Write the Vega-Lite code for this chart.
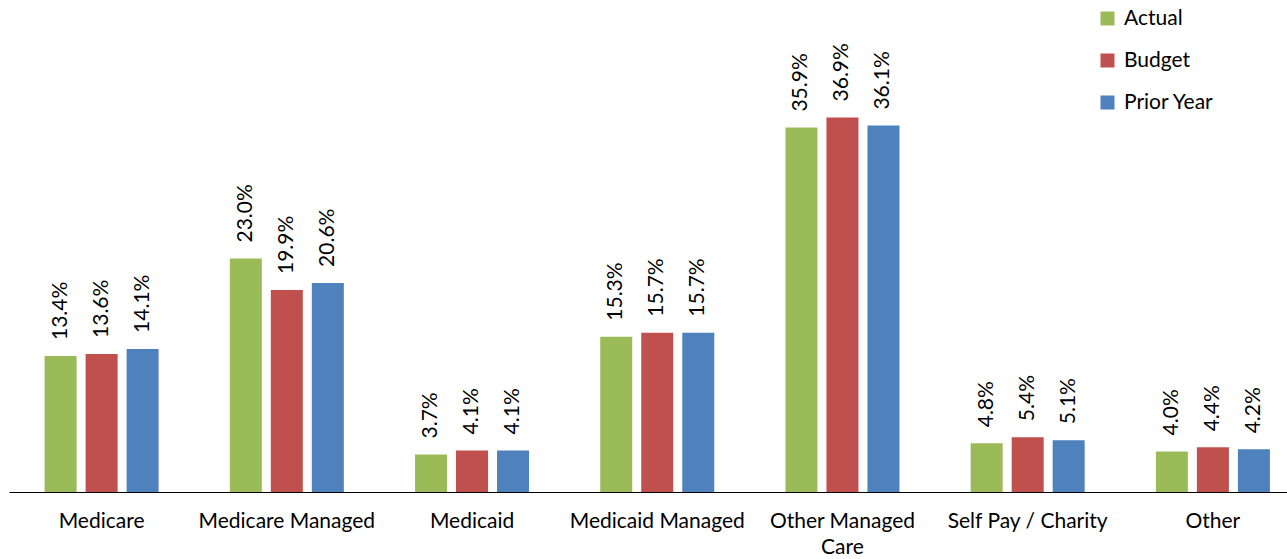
{
  "$schema": "https://vega.github.io/schema/vega-lite/v6.json",
  "autosize": {"type": "none"},
  "width": 1278,
  "height": 406,
  "padding": {"left": 9, "top": 86, "right": 0, "bottom": 67},
  "background": "white",
  "config": {"view": {"stroke": null}, "font": "Lato"},
  "data": {"values": [
    {"cat": "Medicare", "series": "Actual", "v": 0.134},
    {"cat": "Medicare", "series": "Budget", "v": 0.136},
    {"cat": "Medicare", "series": "Prior Year", "v": 0.141},
    {"cat": "Medicare Managed", "series": "Actual", "v": 0.230},
    {"cat": "Medicare Managed", "series": "Budget", "v": 0.199},
    {"cat": "Medicare Managed", "series": "Prior Year", "v": 0.206},
    {"cat": "Medicaid", "series": "Actual", "v": 0.037},
    {"cat": "Medicaid", "series": "Budget", "v": 0.041},
    {"cat": "Medicaid", "series": "Prior Year", "v": 0.041},
    {"cat": "Medicaid Managed", "series": "Actual", "v": 0.153},
    {"cat": "Medicaid Managed", "series": "Budget", "v": 0.157},
    {"cat": "Medicaid Managed", "series": "Prior Year", "v": 0.157},
    {"cat": "Other Managed Care", "series": "Actual", "v": 0.359},
    {"cat": "Other Managed Care", "series": "Budget", "v": 0.369},
    {"cat": "Other Managed Care", "series": "Prior Year", "v": 0.361},
    {"cat": "Self Pay / Charity", "series": "Actual", "v": 0.048},
    {"cat": "Self Pay / Charity", "series": "Budget", "v": 0.054},
    {"cat": "Self Pay / Charity", "series": "Prior Year", "v": 0.051},
    {"cat": "Other", "series": "Actual", "v": 0.040},
    {"cat": "Other", "series": "Budget", "v": 0.044},
    {"cat": "Other", "series": "Prior Year", "v": 0.042}
  ]},
  "encoding": {
    "x": {
      "field": "cat", "type": "nominal", "sort": null,
      "scale": {"range": [0, 1296.5], "paddingInner": 0, "paddingOuter": 0},
      "axis": {
        "title": null, "ticks": false, "domainColor": "#000000", "domainWidth": 1.2,
        "labelAngle": 0, "labelFontSize": 21, "labelColor": "#000000", "labelPadding": 18,
        "labelLineHeight": 26, "labelFont": "Lato",
        "labelExpr": "datum.label == 'Other Managed Care' ? ['Other Managed', 'Care'] : datum.label"
      }
    },
    "xOffset": {
      "field": "series", "type": "nominal",
      "scale": {"domain": ["Actual", "Budget", "Prior Year"], "paddingInner": 0.2195, "paddingOuter": 0.868}
    },
    "y": {
      "field": "v", "type": "quantitative",
      "scale": {"domain": [0, 0.4], "nice": false, "zero": true},
      "axis": null
    }
  },
  "layer": [
    {
      "mark": {"type": "bar"},
      "encoding": {
        "color": {
          "field": "series", "type": "nominal",
          "scale": {"domain": ["Actual", "Budget", "Prior Year"], "range": ["#9BBB59", "#C0504D", "#4F81BD"]},
          "legend": {
            "title": null, "orient": "none", "legendX": 1088, "legendY": -78,
            "symbolType": "square", "symbolSize": 196, "symbolStrokeWidth": 0,
            "labelFontSize": 21, "labelColor": "#000000", "labelFont": "Lato",
            "rowPadding": 20, "labelOffset": 6, "padding": 0
          }
        }
      }
    },
    {
      "mark": {"type": "text", "angle": 270, "align": "left", "baseline": "middle", "dx": 16, "fontSize": 21, "color": "#000000", "font": "Lato"},
      "encoding": {
        "text": {"field": "v", "type": "quantitative", "format": ".1%"}
      }
    }
  ]
}
